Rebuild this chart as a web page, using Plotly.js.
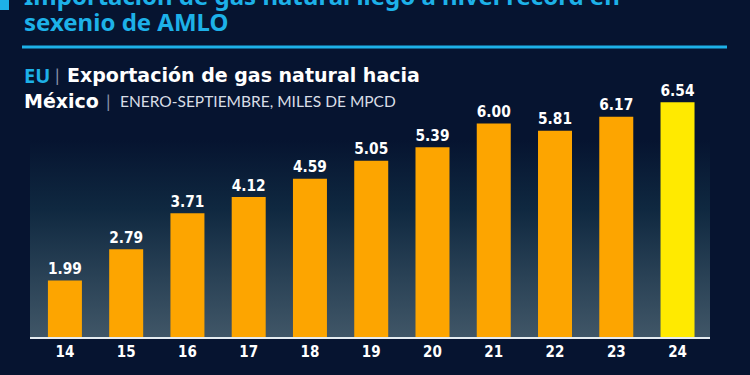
<!DOCTYPE html>
<html>
<head>
<meta charset="utf-8">
<script src="https://cdn.plot.ly/plotly-3.0.1.min.js"></script>
<style>
  html, body { margin:0; padding:0; background:#061430; }
  #wrap { position:relative; width:750px; height:375px; overflow:hidden; background:#061430; }
  #panel { position:absolute; left:30px; top:140px; width:680px; height:197px;
    background: linear-gradient(to bottom, rgba(6,20,48,0) 0%, #0f2840 35%, #2a4256 70%, #405667 100%); }
  #chart { position:absolute; left:0; top:0; width:750px; height:375px; }
</style>
</head>
<body>
<div id="wrap">
  <div id="panel"></div>
  <div id="chart"></div>
</div>
<script>
const years = ['14','15','16','17','18','19','20','21','22','23','24'];
const values = [1.99, 2.79, 3.71, 4.12, 4.59, 5.05, 5.39, 6.00, 5.81, 6.17, 6.54];
const valueLabels = ['1.99','2.79','3.71','4.12','4.59','5.05','5.39','6.00','5.81','6.17','6.54'];
const barColors = ['#FDA500','#FDA500','#FDA500','#FDA500','#FDA500','#FDA500','#FDA500','#FDA500','#FDA500','#FDA500','#FFEA00'];

const titleLine1 = 'Importación de gas natural llegó a nivel récord en';
const titleLine2 = 'sexenio de AMLO';
const subCountry = 'EU';
const subTitle = 'Exportación de gas natural hacia';
const subDest = 'México';
const subUnits = 'ENERO-SEPTIEMBRE, MILES DE MPCD';

const cyan = '#1DB1E8';
const W = 680, H = 277, L = 30, T = 60;
const px = x => (x - L) / W;
const py = y => (T + H - y) / H;
const narrow = '"Liberation Sans Narrow", "DejaVu Sans Condensed", sans-serif';
const boldFam = '"DejaVu Sans", sans-serif';

const trace = {
  type: 'bar',
  x: years,
  y: values,
  text: valueLabels,
  textposition: 'outside',
  cliponaxis: false,
  textfont: { family: narrow, size: 22, color: '#FFFFFF', weight: 700 },
  marker: { color: barColors, line: { width: 0 } },
  hoverinfo: 'none'
};

function ann(x, y, text, font, anchor) {
  return { xref: 'paper', yref: 'paper', x: px(x), y: py(y), xanchor: anchor || 'left', yanchor: 'middle',
    showarrow: false, text: text, font: font };
}

const layout = {
  width: 750, height: 375,
  margin: { l: L, r: 750 - L - W, t: T, b: 375 - T - H },
  paper_bgcolor: 'rgba(0,0,0,0)',
  plot_bgcolor: 'rgba(0,0,0,0)',
  bargap: 0.445,
  showlegend: false,
  xaxis: {
    type: 'category',
    range: [-0.57, 10.53],
    showgrid: false, zeroline: false,
    showline: true, linecolor: '#E6ECF0', linewidth: 2,
    ticks: '',
    tickfont: { family: narrow, size: 15, color: '#FFFFFF', weight: 700 },
    fixedrange: true
  },
  yaxis: {
    range: [0.55, 0.55 + H / 39.19],
    showgrid: false, zeroline: false, showline: false,
    showticklabels: false, ticks: '',
    fixedrange: true
  },
  shapes: [
    { type: 'rect', xref: 'paper', yref: 'paper', x0: px(0), x1: px(9), y0: py(10), y1: py(0), fillcolor: cyan, line: { width: 0 } },
    { type: 'line', xref: 'paper', yref: 'paper', x0: px(22), x1: px(727), y0: py(47), y1: py(47), line: { color: cyan, width: 3 } }
  ],
  annotations: [
    ann(22, -5, '<b>' + titleLine1 + '</b>', { family: '"Noto Sans", sans-serif', size: 24, color: cyan }),
    ann(22, 21, '<b>' + titleLine2 + '</b>', { family: '"Noto Sans", sans-serif', size: 24, color: cyan }),
    ann(22, 75, '<b>' + subCountry + '</b>', { family: '"Noto Sans", sans-serif', size: 20, color: cyan }),
    ann(57, 75, '|', { family: 'Lato, sans-serif', size: 18, color: '#8C98AA' }, 'center'),
    ann(65, 75, '<b>' + subTitle + '</b>', { family: boldFam, size: 19, color: '#FFFFFF' }),
    ann(22, 101, '<b>' + subDest + '</b>', { family: boldFam, size: 19, color: '#FFFFFF' }),
    ann(108, 101, '|', { family: 'Lato, sans-serif', size: 18, color: '#8C98AA' }, 'center'),
    ann(118, 101, subUnits, { family: 'Lato, sans-serif', size: 15.5, color: '#D9DEE6' })
  ]
};

Plotly.newPlot('chart', [trace], layout, { displayModeBar: false, staticPlot: true });
</script>
</body>
</html>
